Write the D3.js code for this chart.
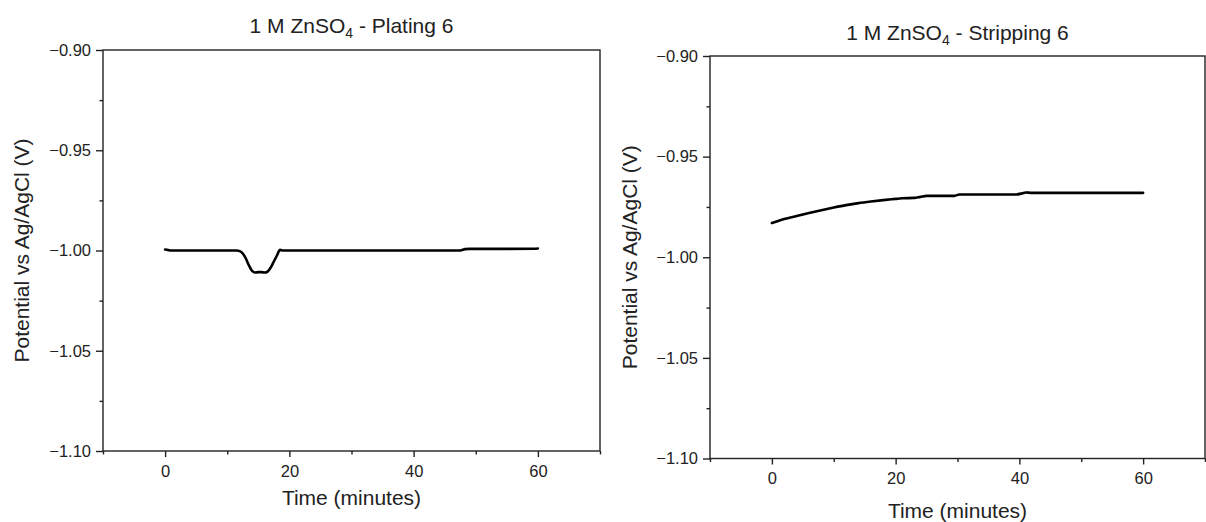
<!DOCTYPE html>
<html>
<head>
<meta charset="utf-8">
<script src="https://cdn.jsdelivr.net/npm/d3@7"></script>
<style>
  html, body { margin: 0; padding: 0; background: #fff; }
  svg { display: block; }
  text { font-family: "Liberation Sans", Arial, sans-serif; fill: #222; }
</style>
</head>
<body>
<svg id="chart" width="1206" height="522"></svg>
<script>
// ---- Data ----
const platingTime = [0, 0.5, 1, 4, 8, 11.5, 12, 12.5, 13, 13.5, 14, 14.5, 15, 15.5, 16, 16.5, 17, 17.5, 18, 18.5, 19, 20, 30, 40, 47.5, 48.3, 49, 55, 59.5, 60];
const platingValue = [-0.9995, -0.9998, -1.0000, -1.0000, -1.0000, -1.0000, -1.0003, -1.0015, -1.0040, -1.0075, -1.0102, -1.0110, -1.0108, -1.0108, -1.0110, -1.0105, -1.0085, -1.0055, -1.0025, -0.9997, -1.0000, -1.0000, -1.0000, -1.0000, -1.0000, -0.9993, -0.9992, -0.9992, -0.9991, -0.9990];

const strippingTime = [0, 1, 2, 4, 6, 8, 10, 12, 14, 16, 18, 20, 21, 23, 24, 25, 27, 29.5, 30.3, 35, 39.5, 40.5, 41, 42, 50, 60];
const strippingValue = [-0.9830, -0.9820, -0.9810, -0.9795, -0.9780, -0.9766, -0.9753, -0.9741, -0.9731, -0.9723, -0.9716, -0.9710, -0.9707, -0.9705, -0.9700, -0.9695, -0.9695, -0.9695, -0.9688, -0.9688, -0.9688, -0.9682, -0.9678, -0.9680, -0.9680, -0.9680];

const xTicks = [0, 20, 40, 60];
const xMinorTicks = [-10, 10, 30, 50, 70];
const yTicks = [-0.90, -0.95, -1.00, -1.05, -1.10];
const yMinorTicks = [-0.925, -0.975, -1.025, -1.075];

const panels = [
  { name: "Plating 6", time: platingTime, value: platingValue,
    left: 103, right: 600, top: 50, bottom: 451, titleY: 33, xLabelY: 505, yLabelX: 29 },
  { name: "Stripping 6", time: strippingTime, value: strippingValue,
    left: 710, right: 1205, top: 56, bottom: 458.5, titleY: 40, xLabelY: 518, yLabelX: 637 }
];

const svg = d3.select("#chart");
const fmt = d => (d < 0 ? "\u2212" : "") + Math.abs(d).toFixed(2);

panels.forEach(p => {
  const x = d3.scaleLinear().domain([-10, 70]).range([p.left, p.right]);
  const y = d3.scaleLinear().domain([-1.10, -0.90]).range([p.bottom, p.top]);
  const g = svg.append("g");

  // frame
  g.append("rect")
    .attr("x", p.left).attr("y", p.top)
    .attr("width", p.right - p.left).attr("height", p.bottom - p.top)
    .attr("fill", "none").attr("stroke", "#222").attr("stroke-width", 1.4);

  // x axis
  const xAxis = g.append("g").attr("transform", `translate(0,${p.bottom})`)
    .call(d3.axisBottom(x).tickValues(xTicks).tickSize(6).tickPadding(8).tickFormat(d3.format("d")));
  xAxis.select(".domain").remove();
  g.append("g").attr("transform", `translate(0,${p.bottom})`)
    .call(d3.axisBottom(x).tickValues(xMinorTicks).tickSize(3.5).tickFormat(""))
    .select(".domain").remove();

  // y axis
  const yAxis = g.append("g").attr("transform", `translate(${p.left},0)`)
    .call(d3.axisLeft(y).tickValues(yTicks).tickSize(7).tickPadding(5).tickFormat(fmt));
  yAxis.select(".domain").remove();
  g.append("g").attr("transform", `translate(${p.left},0)`)
    .call(d3.axisLeft(y).tickValues(yMinorTicks).tickSize(3.5).tickFormat(""))
    .select(".domain").remove();

  g.selectAll(".tick line").attr("stroke", "#222").attr("stroke-width", 1.4);
  g.selectAll(".tick text").style("font-family", '"Liberation Sans", Arial, sans-serif')
    .style("font-size", "16.5px").attr("fill", "#222");

  // line
  const pts = p.time.map((t, i) => [t, p.value[i]]);
  g.append("path").datum(pts)
    .attr("fill", "none").attr("stroke", "#000").attr("stroke-width", 2.6)
    .attr("stroke-linejoin", "round").attr("stroke-linecap", "round")
    .attr("d", d3.line().x(d => x(d[0])).y(d => y(d[1])).curve(d3.curveMonotoneX));

  // title
  const cx = (p.left + p.right) / 2;
  const title = g.append("text").attr("x", cx).attr("y", p.titleY)
    .attr("text-anchor", "middle").style("font-size", "21px");
  title.append("tspan").text("1 M ZnSO");
  title.append("tspan").attr("dy", 5).style("font-size", "14px").text("4");
  title.append("tspan").attr("dy", -5).text(" - " + p.name);

  // x label
  g.append("text").attr("x", cx).attr("y", p.xLabelY)
    .attr("text-anchor", "middle").style("font-size", "21px").text("Time (minutes)");

  // y label
  const cy = (p.top + p.bottom) / 2;
  g.append("text").attr("transform", `translate(${p.yLabelX},${cy}) rotate(-90)`)
    .attr("text-anchor", "middle").style("font-size", "21px").text("Potential vs Ag/AgCl (V)");
});
</script>
</body>
</html>
